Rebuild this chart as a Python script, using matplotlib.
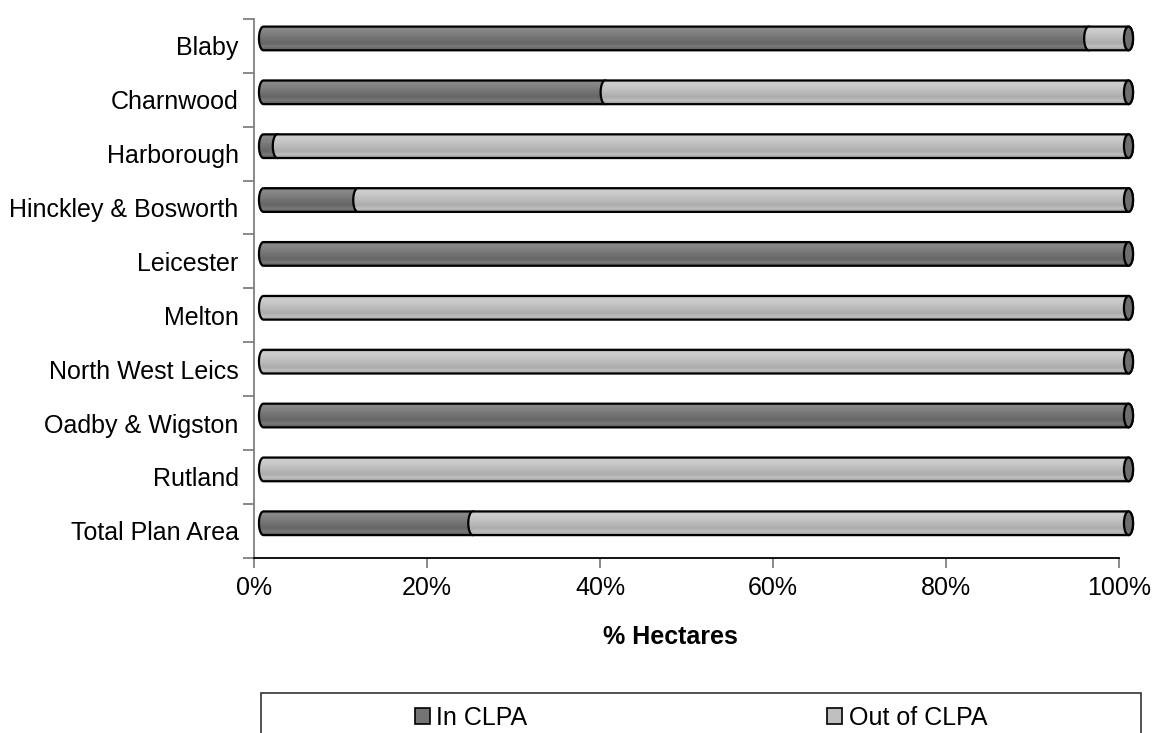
import numpy as np
import matplotlib
matplotlib.use("Agg")
import matplotlib.pyplot as plt
from matplotlib.path import Path
from matplotlib.patches import PathPatch, Ellipse, Rectangle, Patch
from matplotlib.transforms import ScaledTranslation

plt.rcParams['font.family'] = ['Liberation Sans', 'DejaVu Sans']

# data (% of hectares)
districts = ['Blaby', 'Charnwood', 'Harborough', 'Hinckley & Bosworth', 'Leicester',
             'Melton', 'North West Leics', 'Oadby & Wigston', 'Rutland', 'Total Plan Area']
in_clpa = [95.4, 39.5, 1.6, 10.9, 100, 0, 0, 100, 0, 24.2]
out_clpa = [100 - v for v in in_clpa]
series_names = ['In CLPA', 'Out of CLPA']

# shading profiles for the cylinders (top -> bottom)
stops = [0.0, 0.1, 0.3, 0.5, 0.72, 0.86, 1.0]
dark_shade = [0x60, 0x8a, 0x80, 0x72, 0x66, 0x7a, 0x58]
light_shade = [0x9e, 0xcf, 0xc6, 0xba, 0xac, 0xc0, 0x98]
legend_cols = ['#747474', '#c0c0c0']
cap_col = '#6e6e6e'

W, H = 1152, 733
fig = plt.figure(figsize=(W / 100, H / 100), dpi=100)
ax = fig.add_axes([254 / W, (H - 557.7) / H, 865 / W, 538.7 / H])

n = len(districts)
ypos = np.arange(n)[::-1]
ax.set_xlim(0, 100)
ax.set_ylim(-0.5, n - 0.5)

# 3-D depth shift of the cylinders
shift = ax.transData + ScaledTranslation(9.5 / 100, 7.5 / 100, fig.dpi_scale_trans)

bar_h = 0.44
cap_w = 1.05  # full width of an end ellipse in data units


def capsule(x0, x1, yc, h, a):
    t1 = np.linspace(np.pi / 2, 3 * np.pi / 2, 40)
    t2 = np.linspace(-np.pi / 2, np.pi / 2, 40)
    xs = np.r_[x0 + a * np.cos(t1), x1 + a * np.cos(t2)]
    ys = np.r_[yc + h / 2 * np.sin(t1), yc + h / 2 * np.sin(t2)]
    verts = np.c_[xs, ys]
    verts = np.vstack([verts, verts[:1]])
    codes = [Path.MOVETO] + [Path.LINETO] * (len(verts) - 2) + [Path.CLOSEPOLY]
    return Path(verts, codes)


def shade_img(vals):
    rows = np.linspace(0, 1, 60)
    g = np.interp(rows, stops, vals) / 255.0
    return np.dstack([g, g, g])[:, None, :].reshape(60, 1, 3)


imgs = [shade_img(dark_shade), shade_img(light_shade)]

for y, a_val, b_val in zip(ypos, in_clpa, out_clpa):
    left = 0
    z = 3
    for k, v in enumerate([a_val, b_val]):
        if v <= 0:
            continue
        x0, x1 = left, left + v
        pth = capsule(x0, x1, y, bar_h, cap_w / 2)
        p = PathPatch(pth, facecolor='none', edgecolor='black', lw=1.6,
                      transform=shift, zorder=z + 0.5, clip_on=False)
        ax.add_patch(p)
        im = ax.imshow(imgs[k], extent=[x0 - cap_w / 2, x1 + cap_w / 2, y - bar_h / 2, y + bar_h / 2],
                       aspect='auto', interpolation='bilinear', transform=shift, zorder=z)
        im.set_clip_path(p)
        im.set_clip_box(fig.bbox)
        left = x1
        z += 1
    ax.add_patch(Ellipse((left, y), cap_w, bar_h, facecolor=cap_col, edgecolor='black',
                         lw=1.6, transform=shift, zorder=z + 1, clip_on=False))

ax.set_xlim(0, 100)
ax.set_ylim(-0.5, n - 0.5)

# axes styling
for s in ['top', 'right']:
    ax.spines[s].set_visible(False)
ax.spines['left'].set_color('#808080')
ax.spines['left'].set_linewidth(1.3)
ax.spines['bottom'].set_color('black')
ax.spines['bottom'].set_linewidth(1.3)

ax.set_xticks(np.arange(0, 101, 20))
ax.set_xticklabels([f'{v}%' for v in range(0, 101, 20)], fontsize=18)
ax.tick_params(axis='x', length=7, width=1.3, color='#808080', pad=6)

ax.set_yticks(np.arange(-0.5, n, 1.0))
ax.set_yticklabels([])
ax.tick_params(axis='y', which='major', length=8, width=1.3, color='#808080')
ax.set_yticks(ypos, minor=True)
ax.set_yticklabels(districts, minor=True, fontsize=18)
ax.tick_params(axis='y', which='minor', length=0, pad=11)

ax.set_xlabel('% Hectares', fontsize=18, fontweight='bold', va='center')
ax.xaxis.set_label_coords((670 - 254) / 865, -79 / 538.7)

# legend with box cut at the bottom edge
fig.patches.append(Rectangle((261 / W, -0.1), 880 / W, 0.1 + (H - 692.5) / H,
                             transform=fig.transFigure, facecolor='none',
                             edgecolor='#333333', lw=1.2))
handles = [Patch(facecolor=c, edgecolor='black', lw=1.2) for c in legend_cols]
fig.legend(handles, series_names, loc='center', bbox_to_anchor=(701 / W, 1 - 718 / H),
           ncol=2, frameon=False, fontsize=18, handlelength=0.6, handleheight=0.6,
           handletextpad=0.25, columnspacing=12.0)

fig.savefig('out.png', dpi=100)
